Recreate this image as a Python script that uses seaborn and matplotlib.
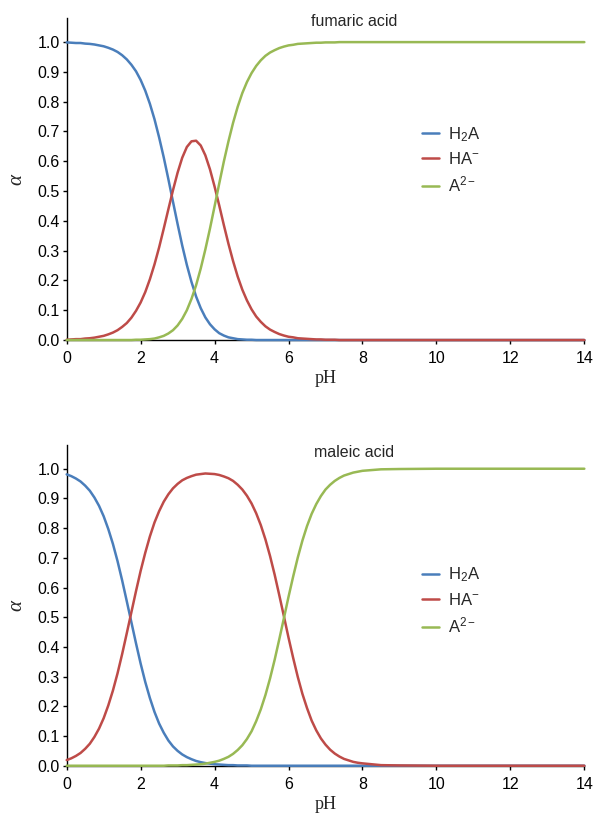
import matplotlib
matplotlib.use("Agg")
import matplotlib.pyplot as plt
import seaborn as sns
import pandas as pd

# pH values the curves were read at
ph = [0, 0.125, 0.25, 0.375, 0.5, 0.625, 0.75, 0.875,
      1, 1.125, 1.25, 1.375, 1.5, 1.625, 1.75, 1.875,
      2, 2.125, 2.25, 2.375, 2.5, 2.625, 2.75, 2.875,
      3, 3.125, 3.25, 3.375, 3.5, 3.625, 3.75, 3.875,
      4, 4.125, 4.25, 4.375, 4.5, 4.625, 4.75, 4.875,
      5, 5.125, 5.25, 5.375, 5.5, 5.625, 5.75, 5.875,
      6, 6.125, 6.25, 6.375, 6.5, 6.625, 6.75, 6.875,
      7, 7.125, 7.25, 7.375, 7.5, 7.625, 7.75, 7.875,
      8, 8.5, 9, 10, 11, 12, 13, 14]

# fumaric acid
fumaric_h2a = [0.999, 0.998, 0.997, 0.997, 0.995, 0.994, 0.992, 0.989,
               0.986, 0.981, 0.975, 0.967, 0.956, 0.942, 0.924, 0.902,
               0.873, 0.837, 0.793, 0.741, 0.680, 0.613, 0.540, 0.464,
               0.389, 0.317, 0.252, 0.195, 0.146, 0.107, 0.076, 0.053,
               0.036, 0.023, 0.015, 0.009, 0.006, 0.003, 0.002, 0.001,
               0.001, 0, 0, 0, 0, 0, 0, 0,
               0, 0, 0, 0, 0, 0, 0, 0,
               0, 0, 0, 0, 0, 0, 0, 0,
               0, 0, 0, 0, 0, 0, 0, 0]
fumaric_ha = [0.001, 0.002, 0.003, 0.003, 0.005, 0.006, 0.008, 0.011,
              0.014, 0.019, 0.025, 0.033, 0.044, 0.057, 0.075, 0.098,
              0.126, 0.161, 0.204, 0.254, 0.311, 0.374, 0.439, 0.503,
              0.562, 0.612, 0.648, 0.667, 0.669, 0.653, 0.620, 0.573,
              0.515, 0.452, 0.386, 0.323, 0.265, 0.213, 0.169, 0.133,
              0.103, 0.079, 0.061, 0.046, 0.035, 0.027, 0.020, 0.015,
              0.011, 0.009, 0.006, 0.005, 0.004, 0.003, 0.002, 0.002,
              0.001, 0.001, 0.001, 0, 0, 0, 0, 0,
              0, 0, 0, 0, 0, 0, 0, 0]
fumaric_a = [0, 0, 0, 0, 0, 0, 0, 0,
             0, 0, 0, 0, 0, 0, 0, 0.001,
             0.001, 0.002, 0.003, 0.005, 0.009, 0.014, 0.022, 0.033,
             0.049, 0.071, 0.100, 0.138, 0.184, 0.240, 0.304, 0.374,
             0.449, 0.525, 0.599, 0.667, 0.729, 0.783, 0.829, 0.866,
             0.896, 0.920, 0.939, 0.954, 0.965, 0.973, 0.980, 0.985,
             0.989, 0.991, 0.994, 0.995, 0.996, 0.997, 0.998, 0.998,
             0.999, 0.999, 0.999, 1, 1, 1, 1, 1,
             1, 1, 1, 1, 1, 1, 1, 1]

# maleic acid
maleic_h2a = [0.981, 0.975, 0.967, 0.957, 0.943, 0.926, 0.903, 0.875,
              0.840, 0.797, 0.747, 0.689, 0.624, 0.554, 0.483, 0.412,
              0.344, 0.282, 0.228, 0.181, 0.142, 0.111, 0.085, 0.065,
              0.050, 0.038, 0.029, 0.022, 0.016, 0.012, 0.009, 0.007,
              0.005, 0.004, 0.003, 0.002, 0.002, 0.001, 0.001, 0.001,
              0, 0, 0, 0, 0, 0, 0, 0,
              0, 0, 0, 0, 0, 0, 0, 0,
              0, 0, 0, 0, 0, 0, 0, 0,
              0, 0, 0, 0, 0, 0, 0, 0]
maleic_ha = [0.019, 0.025, 0.033, 0.043, 0.057, 0.074, 0.097, 0.125,
             0.160, 0.203, 0.253, 0.311, 0.376, 0.446, 0.517, 0.588,
             0.656, 0.717, 0.772, 0.819, 0.857, 0.889, 0.914, 0.934,
             0.949, 0.961, 0.969, 0.975, 0.980, 0.982, 0.984, 0.983,
             0.982, 0.979, 0.974, 0.968, 0.959, 0.946, 0.930, 0.909,
             0.883, 0.850, 0.810, 0.762, 0.706, 0.643, 0.574, 0.503,
             0.431, 0.363, 0.299, 0.242, 0.194, 0.152, 0.119, 0.092,
             0.071, 0.054, 0.041, 0.031, 0.023, 0.018, 0.013, 0.010,
             0.008, 0.002, 0.001, 0, 0, 0, 0, 0]
maleic_a = [0, 0, 0, 0, 0, 0, 0, 0,
            0, 0, 0, 0, 0, 0, 0, 0,
            0, 0, 0, 0, 0, 0, 0.001, 0.001,
            0.001, 0.002, 0.002, 0.003, 0.004, 0.005, 0.007, 0.010,
            0.013, 0.017, 0.023, 0.030, 0.040, 0.053, 0.069, 0.090,
            0.116, 0.150, 0.190, 0.238, 0.294, 0.357, 0.426, 0.497,
            0.569, 0.637, 0.701, 0.758, 0.807, 0.848, 0.881, 0.908,
            0.930, 0.946, 0.959, 0.969, 0.977, 0.982, 0.987, 0.990,
            0.993, 0.998, 0.999, 1, 1, 1, 1, 1]

species = ["H$_2$A", "HA$^{-}$", "A$^{2-}$"]
colors = ["#4a7ebb", "#be4b48", "#98b954"]

sns.set_style("ticks")
plt.rcParams["font.family"] = ["Liberation Sans", "DejaVu Sans"]
plt.rcParams["mathtext.fontset"] = "custom"
plt.rcParams["mathtext.rm"] = "Liberation Sans"
plt.rcParams["mathtext.it"] = "Liberation Sans:italic"
plt.rcParams["mathtext.bf"] = "Liberation Sans:bold"


def make_frame(h2a, ha, a):
    df = pd.DataFrame({"pH": ph, species[0]: h2a, species[1]: ha, species[2]: a})
    return df.melt(id_vars="pH", var_name="species", value_name="alpha")


def draw(ax, df, title, title_y, legend_y):
    sns.lineplot(data=df, x="pH", y="alpha", hue="species", hue_order=species,
                 palette=colors, linewidth=1.8, errorbar=None, ax=ax,
                 clip_on=False, zorder=3)
    ax.set_xlim(0, 14)
    ax.set_ylim(0, 1.08)
    ax.set_xticks(range(0, 15, 2))
    ax.set_yticks([i / 10 for i in range(11)])
    ax.set_yticklabels([f"{i / 10:.1f}" for i in range(11)])
    ax.tick_params(axis="y", length=3, width=1, pad=2, labelsize=11.5, colors="black")
    ax.tick_params(axis="x", length=3, width=1, pad=5, labelsize=11.5, colors="black")
    for s in ["left", "bottom"]:
        ax.spines[s].set_linewidth(1.0)
        ax.spines[s].set_color("black")
    sns.despine(ax=ax)
    ax.set_xlabel("pH", family="Liberation Serif", fontsize=13, labelpad=3)
    ax.set_ylabel("α", family="Liberation Serif", fontstyle="italic", fontsize=15, labelpad=8)
    ax.text(0.555, title_y, title, transform=ax.transAxes, ha="center", va="center",
            fontsize=11.5)
    sns.move_legend(ax, "center left", bbox_to_anchor=(0.686, legend_y), frameon=False,
                    title=None, handlelength=1.05, handletextpad=0.5, labelspacing=0.45,
                    borderpad=0, borderaxespad=0, fontsize=12)


fig = plt.figure(figsize=(5.97, 8.16), dpi=100)
ax1 = fig.add_axes([0.1117, 0.5833, 0.8671, 0.3943])
ax2 = fig.add_axes([0.1117, 0.0616, 0.8671, 0.3931])

draw(ax1, make_frame(fumaric_h2a, fumaric_ha, fumaric_a), "fumaric acid", 0.99, 0.56)
draw(ax2, make_frame(maleic_h2a, maleic_ha, maleic_a), "maleic acid", 0.975, 0.515)

fig.savefig("out.png", dpi=100)
